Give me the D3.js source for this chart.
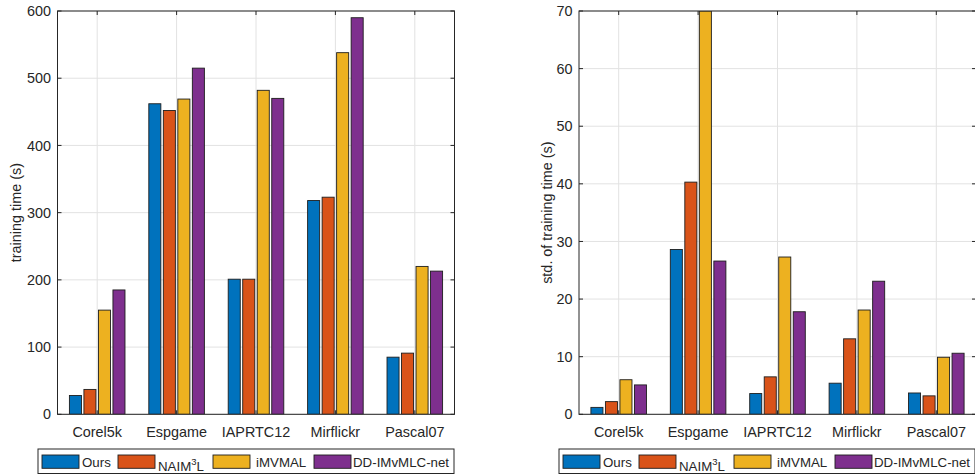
<!DOCTYPE html>
<html>
<head>
<meta charset="utf-8">
<script src="https://cdn.jsdelivr.net/npm/d3@7"></script>
<style>
  body { margin: 0; background: #fff; }
  svg { font-family: "Liberation Sans", Arial, Helvetica, sans-serif; }
</style>
</head>
<body>
<div class="chart"></div>
<script>
// data
const categories = ['Corel5k', 'Espgame', 'IAPRTC12', 'Mirflickr', 'Pascal07'];
const methods = ['Ours', 'NAIM3L', 'iMVMAL', 'DD-IMvMLC-net'];
const colors = ['#0072BD', '#D95319', '#EDB120', '#7E2F8E'];

// training time (s)
const timeOurs   = [28, 462, 201, 318, 85];
const timeNaim   = [37, 452, 201, 323, 91];
const timeImvmal = [155, 469, 482, 538, 220];
const timeDd     = [185, 515, 470, 590, 213];
const timeTicks  = [0, 100, 200, 300, 400, 500, 600];

// std. of training time (s)
const stdOurs   = [1.2, 28.6, 3.6, 5.4, 3.7];
const stdNaim   = [2.2, 40.3, 6.5, 13.1, 3.2];
const stdImvmal = [6.0, 70, 27.3, 18.1, 9.9];
const stdDd     = [5.1, 26.6, 17.8, 23.1, 10.6];
const stdTicks  = [0, 10, 20, 30, 40, 50, 60, 70];

const width = 975, height = 474;
const svg = d3.select('.chart').append('svg')
  .attr('width', width)
  .attr('height', height);

const axisColor = '#262626';
const gridColor = '#e2e2e2';

function drawPanel(p) {
  const x = d3.scaleLinear().domain([0.5, 5.5]).range([p.left, p.left + 397]);
  const y = d3.scaleLinear().domain([0, p.ymax]).range([414.3, 11]);
  const unit = x(2) - x(1);
  const x1 = d3.scaleBand().domain(methods)
    .range([-0.35 * unit, 0.35 * unit])
    .paddingInner(0.17);

  const g = svg.append('g');
  const clipId = 'clip' + p.left;
  g.append('clipPath').attr('id', clipId)
    .append('rect')
    .attr('x', x(0.5)).attr('y', y(p.ymax))
    .attr('width', x(5.5) - x(0.5)).attr('height', y(0) - y(p.ymax));

  // grid
  g.selectAll('.gx').data(categories).join('line')
    .attr('x1', (d, i) => x(i + 1)).attr('x2', (d, i) => x(i + 1))
    .attr('y1', y(0)).attr('y2', y(p.ymax))
    .style('stroke', gridColor).style('stroke-width', 1);
  g.selectAll('.gy').data(p.ticks).join('line')
    .attr('x1', x(0.5)).attr('x2', x(5.5))
    .attr('y1', d => y(d)).attr('y2', d => y(d))
    .style('stroke', gridColor).style('stroke-width', 1);

  // bars
  const rows = [];
  p.series.forEach((vals, s) => {
    vals.forEach((v, i) => rows.push({ s: s, i: i, v: v }));
  });
  g.append('g').attr('clip-path', 'url(#' + clipId + ')')
    .selectAll('rect').data(rows).join('rect')
    .attr('x', d => x(d.i + 1) + x1(methods[d.s]))
    .attr('width', x1.bandwidth())
    .attr('y', d => y(d.v))
    .attr('height', d => y(0) - y(d.v))
    .style('fill', d => colors[d.s])
    .style('stroke', '#1e1e1e')
    .style('stroke-width', 0.9);

  // box
  g.append('rect')
    .attr('x', x(0.5)).attr('y', y(p.ymax))
    .attr('width', x(5.5) - x(0.5)).attr('height', y(0) - y(p.ymax))
    .style('fill', 'none').style('stroke', axisColor).style('stroke-width', 1);

  // inward ticks
  const tl = 4;
  categories.forEach((c, i) => {
    g.append('line').attr('x1', x(i + 1)).attr('x2', x(i + 1))
      .attr('y1', y(0)).attr('y2', y(0) - tl).style('stroke', axisColor);
    g.append('line').attr('x1', x(i + 1)).attr('x2', x(i + 1))
      .attr('y1', y(p.ymax)).attr('y2', y(p.ymax) + tl).style('stroke', axisColor);
    g.append('text').text(c)
      .attr('x', x(i + 1)).attr('y', 436.5)
      .attr('text-anchor', 'middle')
      .style('font-size', '14.4px').style('fill', axisColor);
  });
  p.ticks.forEach(t => {
    g.append('line').attr('x1', x(0.5)).attr('x2', x(0.5) + tl)
      .attr('y1', y(t)).attr('y2', y(t)).style('stroke', axisColor);
    g.append('line').attr('x1', x(5.5)).attr('x2', x(5.5) - tl)
      .attr('y1', y(t)).attr('y2', y(t)).style('stroke', axisColor);
    g.append('text').text(t)
      .attr('x', x(0.5) - 6.5).attr('y', y(t))
      .attr('dy', '0.36em')
      .attr('text-anchor', 'end')
      .style('font-size', '14.4px').style('fill', axisColor);
  });

  // y label
  g.append('text').text(p.label)
    .attr('transform', 'translate(' + p.labelX + ',' + (y(0) + y(p.ymax)) / 2 + ') rotate(-90)')
    .attr('text-anchor', 'middle')
    .style('font-size', '14.4px').style('fill', axisColor);

  // legend
  const lg = g.append('g').attr('transform', 'translate(' + p.legendX + ',449)');
  lg.append('rect').attr('x', 0).attr('y', 0).attr('width', 416).attr('height', 24.5)
    .style('fill', '#fff').style('stroke', axisColor).style('stroke-width', 1);
  const itemX = [4, 80, 175, 276];
  const textX = [44, 120, 218, 315];
  methods.forEach((m, s) => {
    lg.append('rect')
      .attr('x', itemX[s]).attr('y', 6).attr('width', 37).attr('height', 13.3)
      .style('fill', colors[s]).style('stroke', '#1e1e1e').style('stroke-width', 0.9);
    const t = lg.append('text')
      .attr('x', textX[s]).attr('y', s === 1 ? 21.5 : 18)
      .style('font-size', '13.3px').style('fill', axisColor);
    if (s === 1) {
      t.append('tspan').text('NAIM');
      t.append('tspan').text('3').attr('dy', -6).style('font-size', '9.5px');
      t.append('tspan').text('L').attr('dy', 6);
    } else {
      t.text(m);
    }
  });
}

drawPanel({
  left: 57.5, ymax: 600, ticks: timeTicks,
  series: [timeOurs, timeNaim, timeImvmal, timeDd],
  label: 'training time (s)', labelX: 21, legendX: 38
});
drawPanel({
  left: 579, ymax: 70, ticks: stdTicks,
  series: [stdOurs, stdNaim, stdImvmal, stdDd],
  label: 'std. of training time (s)', labelX: 552, legendX: 559
});
</script>
</body>
</html>
